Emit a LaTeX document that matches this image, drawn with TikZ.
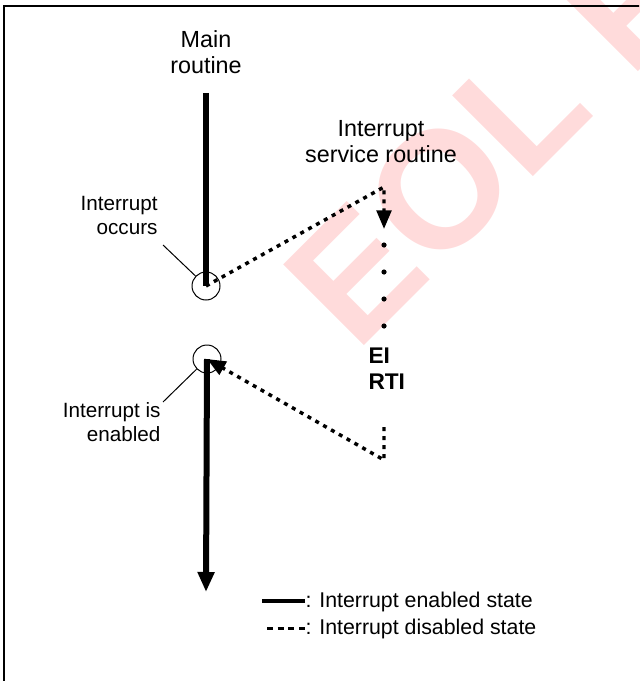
\documentclass[tikz,border=0pt]{standalone}
\usepackage{fontspec}
\setmainfont{Liberation Sans}
\usetikzlibrary{arrows.meta}

\tikzset{every picture/.style={line width=0.75pt}}
\tikzset{
  enline/.style={line width=4.5pt},
  disline/.style={line width=2.6pt, dash pattern={on 3pt off 3.75pt}},
  ringnode/.style={draw, circle, minimum size=21pt, inner sep=0pt},
  lbl/.style={font=\fontsize{15.5}{18}\selectfont, inner sep=0pt},
  biglbl/.style={font=\fontsize{17.5}{19.5}\selectfont, inner sep=0pt, align=center},
  leglbl/.style={font=\fontsize{16}{19}\selectfont, inner sep=0pt}
}

\begin{document}
\begin{tikzpicture}[x=0.75pt,y=0.75pt,yscale=-1,xscale=1]
\useasboundingbox (0,0) rectangle (639,681);
\clip (0,0) rectangle (639,681);

% Watermark
\draw (356,354) node [anchor=base west, rotate=45, inner sep=0pt, text=red!14, font=\bfseries\fontsize{124.5}{130}\selectfont] (wmark) {EOL P};

%Shape: Rectangle [id:frame]
\draw  [line width=1.5pt] (4,6) rectangle (700,760) ;

% Circles
\draw (206,286) node [ringnode] (occ) {};
\draw (207,359) node [ringnode] (ena) {};

\coordinate (mtop) at (206,93);
\coordinate (mend) at (206,592);
\coordinate (isrtop) at (384,187);
\coordinate (isrtip) at (384,229);
\coordinate (rtitop) at (384,427);
\coordinate (rticor) at (384,460);
\coordinate (occlead) at (163,245);
\coordinate (enalead) at (163,402);

% Main routine
\draw [enline] (mtop) -- (occ.center) ;
\draw [enline, -{Triangle[length=15pt,width=12pt]}] (ena.center) -- (mend) ;
% Interrupt service routine
\draw [disline, -{Triangle[length=14pt,width=11pt]}] (occ.center) -- (isrtop) -- (isrtip) ;
\draw [disline, -{Triangle[length=14pt,width=11pt]}] (rtitop) -- (rticor) -- (ena.center) ;
\fill (384,245) circle (2.6) ;
\fill (384,272) circle (2.6) ;
\fill (384,299) circle (2.6) ;
\fill (384,326) circle (2.6) ;
% Leaders
\draw (occlead) -- (occ) ;
\draw (enalead) -- (ena) ;

% Text Node
\draw (206,30) node [anchor=north][biglbl] (mainlbl) {Main\\routine};
% Text Node
\draw (381,120) node [anchor=north][biglbl] (isrlbl) {Interrupt\\service routine};
% Text Node
\draw (158,196) node [anchor=north east][lbl][align=right] (occlbl) {Interrupt\\occurs};
% Text Node
\draw (161,402) node [anchor=north east][lbl][align=right] (enalbl) {Interrupt is\\enabled};
% Text Node
\draw (368,347) node [anchor=north west][inner sep=0pt][align=left, font=\bfseries\fontsize{17}{19.5}\selectfont] (rtilbl) {EI\\RTI};
% Text Node
\draw (305,607) node [anchor=base west][leglbl] (lgen) {: Interrupt enabled state};
% Text Node
\draw (305,634) node [anchor=base west][leglbl] (lgdis) {: Interrupt disabled state};

% Legend
\draw [line width=3pt] (lgen.west) -- ++(-43,0) ;
\draw [line width=2.6pt, dash pattern={on 4.5pt off 3.5pt}] (lgdis.west) ++(-38,0) -- (lgdis.west) ;

\end{tikzpicture}
\end{document}
